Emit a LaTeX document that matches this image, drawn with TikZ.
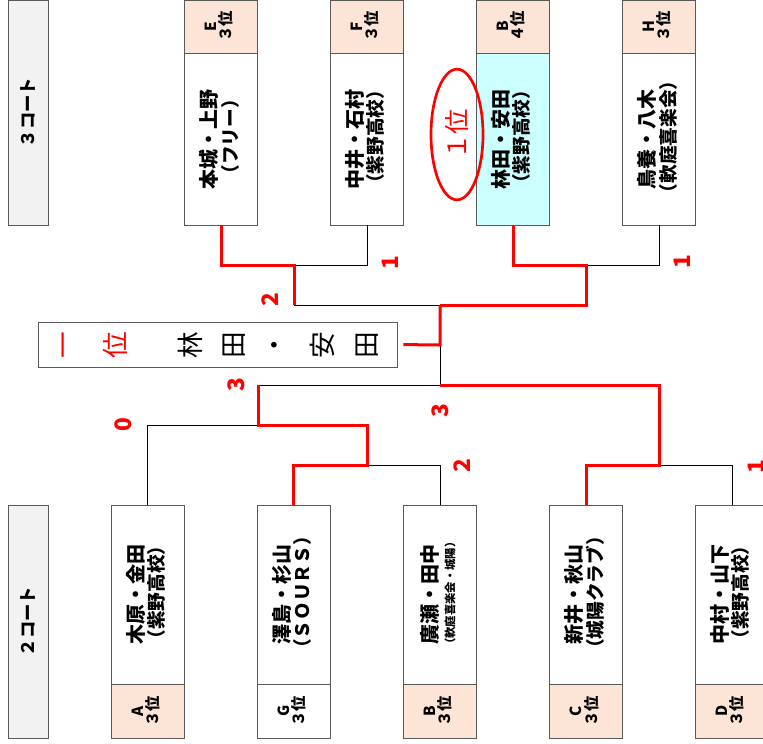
\documentclass[tikz,border=0pt]{standalone}
\usepackage{fontspec}
\setmainfont{Noto Sans CJK JP}
\usetikzlibrary{shapes.geometric}
\definecolor{peach}{HTML}{FCE4D6}
\definecolor{aqua}{HTML}{CCFFFF}
\definecolor{courtgray}{HTML}{F2F2F2}
\definecolor{edge}{HTML}{595959}
\newcommand{\namefont}{\bfseries\fontsize{15}{17}\selectfont}
\newcommand{\clubfont}{\bfseries\fontsize{14}{16}\selectfont}
\newcommand{\tinyclub}{\bfseries\fontsize{8.5}{10}\selectfont}
\newcommand{\duo}[3][\clubfont]{\rotatebox{90}{\begin{tabular}{@{}c@{}}\namefont #2\\[-1pt]#1 #3\end{tabular}}}
\newcommand{\seedtxt}[2]{\rotatebox{90}{\begin{tabular}{@{}c@{}}#1\\[-2pt]#2\end{tabular}}}
\tikzset{
  court/.style={draw=edge, fill=courtgray, minimum width=30pt, inner sep=0pt,
    font=\bfseries\fontsize{13}{13}\selectfont},
  team/.style={draw=edge, fill=white, minimum width=54.75pt, inner sep=0pt,
    font=\fontsize{12}{14}\selectfont},
  seedbox/.style={draw=edge, fill=peach, minimum width=54.75pt, inner sep=0pt,
    font=\bfseries\fontsize{11.5}{12}\selectfont},
  lose/.style={line width=0.75pt, black},
  win/.style={line width=2.25pt, red},
  score/.style={red, rotate=90, inner sep=0pt, font=\bfseries\fontsize{17}{17}\selectfont},
  kanji/.style={rotate=90, inner sep=0pt, font=\fontsize{20}{20}\selectfont},
}
\begin{document}
\begin{tikzpicture}[x=0.75pt, y=-0.75pt]
  \useasboundingbox (0,0) rectangle (763,743);

  % 3 court
  \node[court, minimum height=168.75pt] (c3) at (28,112.5) {\rotatebox{90}{３コート}};
  \node[seedbox, minimum height=39.75pt] (Ehd) at (221,26.5) {\seedtxt{E}{３位}};
  \node[seedbox, minimum height=39.75pt] (Fhd) at (367,26.5) {\seedtxt{F}{３位}};
  \node[seedbox, minimum height=39.75pt] (B4hd) at (513,26.5) {\seedtxt{B}{４位}};
  \node[seedbox, minimum height=39.75pt] (Hhd) at (659,26.5) {\seedtxt{H}{３位}};
  \node[team, minimum height=129pt] (E) at (221,139) {\duo{本城・上野}{（フリー）}};
  \node[team, minimum height=129pt] (F) at (367,139) {\duo{中井・石村}{（紫野高校）}};
  \node[team, minimum height=129pt, fill=aqua] (B4) at (513,139) {\duo{林田・安田}{（紫野高校）}};
  \node[team, minimum height=129pt] (H) at (659,139) {\duo{鳥養・八木}{（軟庭喜楽会）}};
  \node[ellipse, draw=red, line width=2pt, minimum width=39pt, minimum height=98pt, inner sep=0pt,
    text=red, font=\fontsize{19}{19}\selectfont] (first) at (457,134.5) {\rotatebox{90}{１位}};

  % 2 court
  \node[court, minimum height=174.75pt] (c2) at (28,621.5) {\rotatebox{90}{２コート}};
  \node[team, minimum height=134.25pt] (A) at (147.5,594.5) {\duo{木原・金田}{（紫野高校）}};
  \node[team, minimum height=134.25pt] (G) at (293.5,594.5) {\duo{澤島・杉山}{（ＳＯＵＲＳ）}};
  \node[team, minimum height=134.25pt] (B3) at (440,594.5) {\duo[\tinyclub]{廣瀬・田中}{（軟庭喜楽会・城陽）}};
  \node[team, minimum height=134.25pt] (C) at (586,594.5) {\duo{新井・秋山}{（城陽クラブ）}};
  \node[team, minimum height=134.25pt] (D) at (732,594.5) {\duo{中村・山下}{（紫野高校）}};
  \node[seedbox, minimum height=40.5pt] (Ahd) at (147.5,711) {\seedtxt{A}{３位}};
  \node[seedbox, minimum height=40.5pt, fill=white] (Ghd) at (293.5,711) {\seedtxt{G}{３位}};
  \node[seedbox, minimum height=40.5pt] (B3hd) at (440,711) {\seedtxt{B}{３位}};
  \node[seedbox, minimum height=40.5pt] (Chd) at (586,711) {\seedtxt{C}{３位}};
  \node[seedbox, minimum height=40.5pt] (Dhd) at (732,711) {\seedtxt{D}{３位}};

  % champion
  \node[draw=edge, minimum width=269.25pt, minimum height=33.75pt, inner sep=0pt] (final) at (217.5,344.5) {};
  \foreach \c/\px/\col in {一/68/red, 位/115/red, 林/190/black, 田/234/black,
      ・/278/black, 安/322/black, 田/367/black}
    \node[kanji, text=\col] (k\px) at (\px,345) {\c};

  % joints
  \coordinate (ef) at (294,265);
  \coordinate (efw) at (294,305);
  \coordinate (bh) at (586,265);
  \coordinate (top) at (440,305);
  \coordinate (fin) at (440,345);
  \coordinate (bot) at (440,385);
  \coordinate (gb) at (367,465);
  \coordinate (agb) at (258,425);
  \coordinate (agbw) at (258,385);
  \coordinate (cd) at (659,465);

  % losers
  \draw[lose] (F.south) |- (ef);
  \draw[lose] (efw) -- (top);
  \draw[lose] (H.south) |- (bh);
  \draw[lose] (fin) -- (bot);
  \draw[lose] (A.north) |- (agb);
  \draw[lose] (B3.north) |- (gb);
  \draw[lose] (agbw) -- (bot);
  \draw[lose] (D.north) |- (cd);

  % winners
  \draw[win] (E.south) |- (ef) -- (efw);
  \draw[win] (B4.south) |- (bh) |- (top);
  \draw[win, shorten >=4.5pt] (top) -- (fin) -- (final.east);
  \draw[win] (G.north) |- (gb) |- (agb) -- (agbw);
  \draw[win] (C.north) |- (cd) |- (bot);

  % scores
  \node[score] (s1) at (390,263) {1};
  \node[score] (s2) at (270,300) {2};
  \node[score] (s3) at (682,262) {1};
  \node[score] (s4) at (236,385) {3};
  \node[score] (s5) at (123,425) {0};
  \node[score] (s6) at (440,411) {3};
  \node[score] (s7) at (462,466) {2};
  \node[score] (s8) at (756,467) {1};
\end{tikzpicture}
\end{document}
